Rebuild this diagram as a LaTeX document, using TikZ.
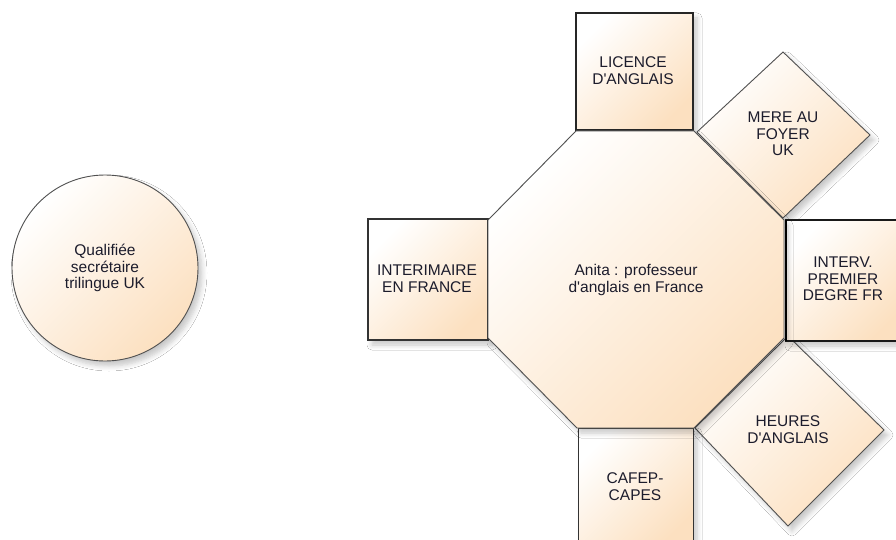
\documentclass[tikz,border=0pt]{standalone}
\usepackage{fontspec}
\setmainfont{Liberation Sans}
\usetikzlibrary{shadows.blur}
\definecolor{peach}{RGB}{252,224,192}
\definecolor{txt}{RGB}{28,28,44}
\definecolor{edge}{RGB}{80,80,80}
\newcommand{\aq}{\textquotesingle}
\tikzset{
  shp/.style={top color=white, bottom color=peach, shading angle=45, draw=edge, line width=0.9pt,
    blur shadow={shadow xshift=4pt, shadow yshift=-5pt, shadow blur steps=6, shadow opacity=22, shadow blur radius=5pt}},
  lbl/.style={text=txt, align=center, font=\fontsize{15.5}{16.7}\selectfont, inner sep=0pt}
}
\begin{document}
\begin{tikzpicture}[x=1pt,y=-1pt]
\useasboundingbox[fill=white] (0,0) rectangle (896,540);
% circle
\path[shp] (105,268) circle (93);
\node[lbl] (qual) at (105,268) {Qualifiée\\secrétaire\\trilingue UK};
% satellite shapes
\path[shp, draw=black!85, line width=1.4pt] (576,13) rectangle (693,130);
\node[lbl] (lic) at (633,71) {LICENCE\\D\aq ANGLAIS};
\path[shp] (783,52) -- (870,135) -- (783,218) -- (697,132) -- cycle;
\node[lbl] (mere) at (783,134) {MERE AU\\FOYER\\UK};
\path[shp, draw=black!80, line width=1.2pt] (368,219) rectangle (488,340);
\node[lbl] (inter) at (427,279) {INTERIMAIRE\\EN FRANCE};
\path[shp] (788,336) -- (884,430) -- (788,526) -- (695,428) -- cycle;
\node[lbl] (heures) at (788,430) {HEURES\\D\aq ANGLAIS};
\path[shp, draw=black!80, line width=1pt] (578,428) rectangle (693,548);
\node[lbl] (cafep) at (635,487) {CAFEP-\\CAPES};
\path[shp, draw=black!90, line width=1.1pt] (786,220) rectangle (906,341);
\draw[black, line width=2pt] (786,220) -- (786,341);
\node[lbl] (interv) at (843,279) {INTERV.\\PREMIER\\DEGRE FR};
% octagon
\path[shp] (576,131) -- (694,131) -- (784,220) -- (784,338) -- (694,428) -- (577,428) -- (488,338) -- (488,220) -- cycle;
\node[lbl] (anita) at (636,280) {Anita : professeur\\d\aq anglais en France};
\end{tikzpicture}
\end{document}
